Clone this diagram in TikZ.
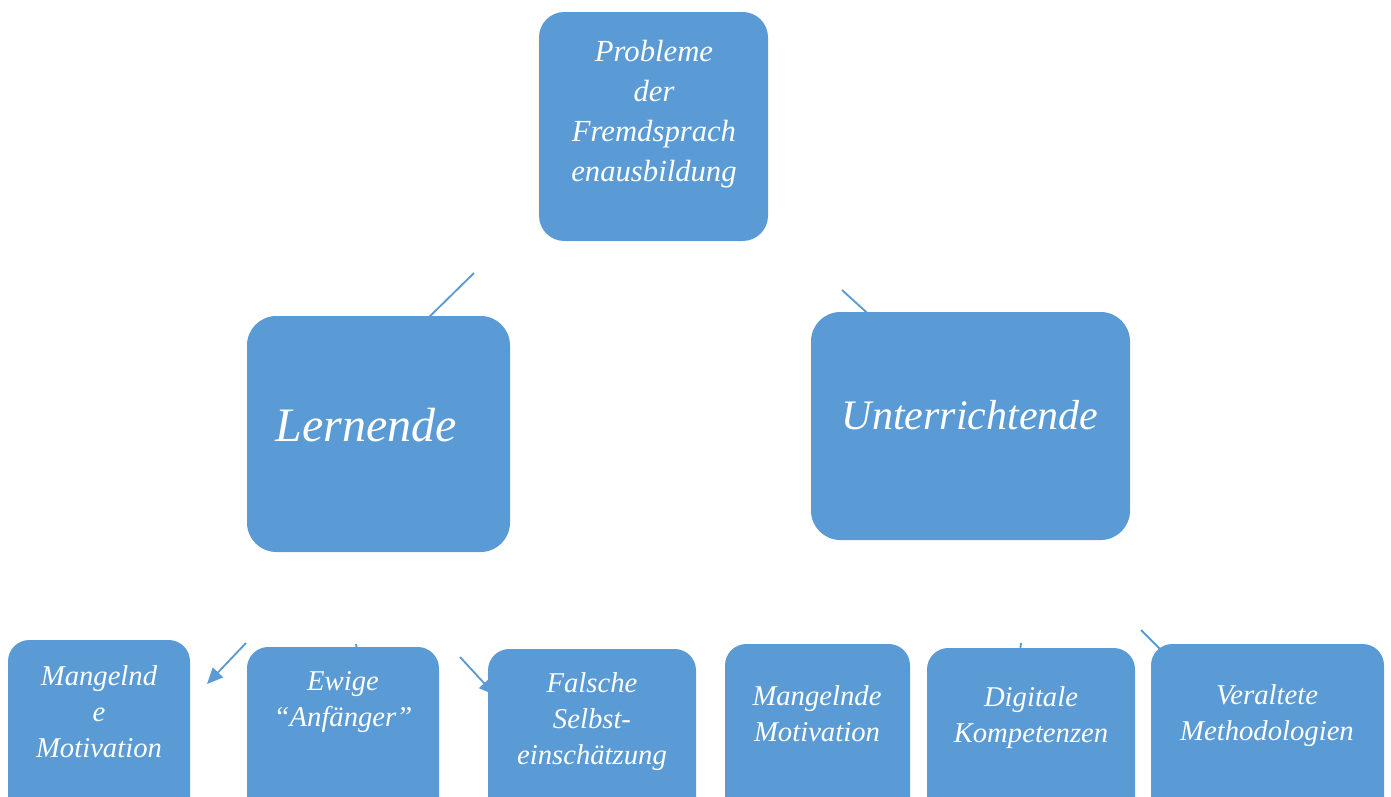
\documentclass[tikz,border=0pt]{standalone}
\usepackage{fontspec}
\setmainfont{Liberation Serif}
\usetikzlibrary{arrows.meta}
\definecolor{boxblue}{HTML}{5B9BD5}
\begin{document}
\begin{tikzpicture}[x=0.75pt,y=-0.75pt,
  box/.style={fill=boxblue, draw=none, inner sep=0pt, rounded corners=16pt},
  lbl/.style={text=white, align=center, inner sep=0pt},
  big/.style={font=\fontsize{23}{30}\selectfont\itshape},
  small/.style={font=\fontsize{21.5}{27}\selectfont\itshape},
  conn/.style={draw=boxblue, line width=1.4pt},
  arr/.style={conn, -{Triangle[length=12pt,width=10.5pt]}}]
\useasboundingbox (0,0) rectangle (1391,796);
\clip (0,0) rectangle (1391,796);
% connector end points
\coordinate (a1s) at (474,273); \coordinate (a1e) at (420,326);
\coordinate (a2s) at (842,290); \coordinate (a2e) at (876,321);
\coordinate (a3s) at (246,643); \coordinate (a3e) at (207,684);
\coordinate (a4s) at (356,644); \coordinate (a4e) at (359,660);
\coordinate (a5s) at (460,657); \coordinate (a5e) at (495,695);
\coordinate (a6s) at (1021,643); \coordinate (a6e) at (1019,660);
\coordinate (a7s) at (1141,630); \coordinate (a7e) at (1166,655);
\draw[conn] (a1s) -- (a1e);
\draw[conn] (a2s) -- (a2e);
\draw[arr] (a3s) -- (a3e);
\draw[conn] (a4s) -- (a4e);
\draw[arr] (a5s) -- (a5e);
\draw[conn] (a6s) -- (a6e);
\draw[conn] (a7s) -- (a7e);
% boxes
\node[box, rounded corners=19pt, minimum width=229*0.75pt, minimum height=229*0.75pt] (top) at (653.5,126.5) {};
\node[box, rounded corners=22pt, minimum width=263*0.75pt, minimum height=236*0.75pt] (lern) at (378.5,434) {};
\node[box, rounded corners=22pt, minimum width=319*0.75pt, minimum height=228*0.75pt] (unt) at (970.5,426) {};
\node[box, minimum width=182*0.75pt, minimum height=200*0.75pt] (b1) at (99,740) {};
\node[box, minimum width=192*0.75pt, minimum height=200*0.75pt] (b2) at (343,747) {};
\node[box, minimum width=208*0.75pt, minimum height=200*0.75pt] (b3) at (592,749) {};
\node[box, minimum width=185*0.75pt, minimum height=200*0.75pt] (b4) at (817.5,744) {};
\node[box, minimum width=208*0.75pt, minimum height=200*0.75pt] (b5) at (1031,748) {};
\node[box, minimum width=233*0.75pt, minimum height=200*0.75pt] (b6) at (1267.5,744) {};
% texts
\node[lbl, big] (ttop) at (654,114) {Probleme\\der\\Fremdsprach\\enausbildung};
\node[lbl, font=\fontsize{36}{40}\selectfont\itshape] (tlern) at (366,425) {Lernende};
\node[lbl, font=\fontsize{31.5}{36}\selectfont\itshape] (tunt) at (970,415) {Unterrichtende};
\node[lbl, small] (t1) at (99,712) {Mangelnd\\e\\Motivation};
\node[lbl, small] (t2) at (343,702) {Ewige\\“Anfänger”};
\node[lbl, small] (t3) at (592,722) {Falsche\\Selbst-\\einschätzung};
\node[lbl, small] (t4) at (817,714) {Mangelnde\\Motivation};
\node[lbl, small] (t5) at (1031,718) {Digitale\\Kompetenzen};
\node[lbl, small] (t6) at (1267,716) {Veraltete\\Methodologien};
\end{tikzpicture}
\end{document}
